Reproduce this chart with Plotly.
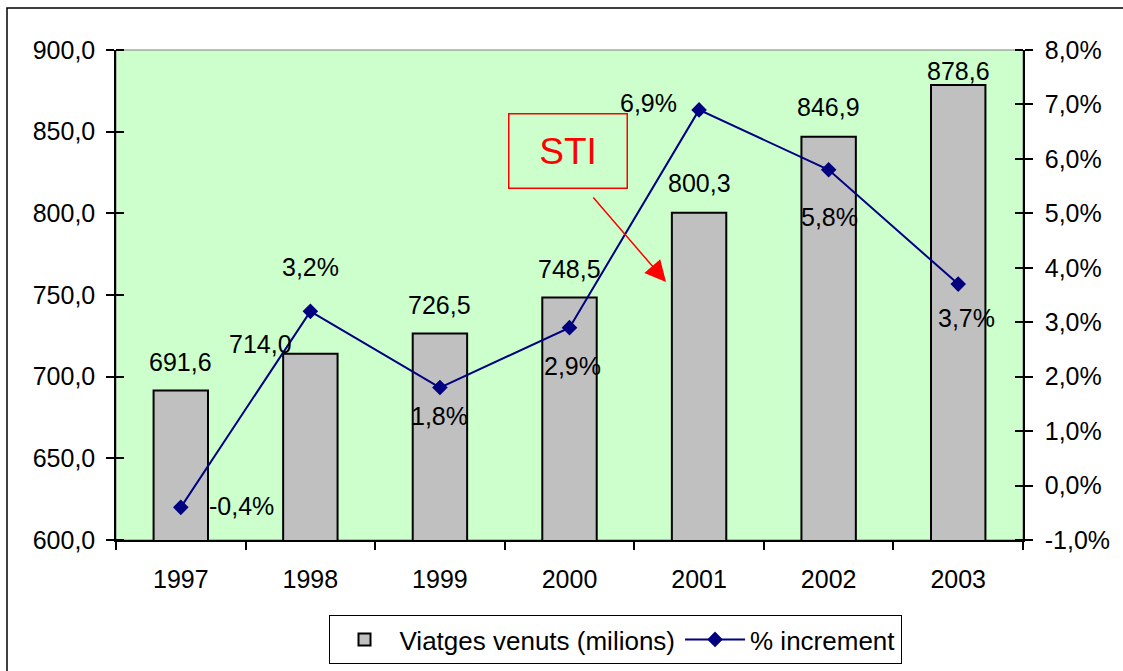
import plotly.graph_objects as go

years = ["1997", "1998", "1999", "2000", "2001", "2002", "2003"]
viatges = [691.6, 714.0, 726.5, 748.5, 800.3, 846.9, 878.6]
increment = [-0.4, 3.2, 1.8, 2.9, 6.9, 5.8, 3.7]
left_ticks = [600, 650, 700, 750, 800, 850, 900]
right_ticks = [-1, 0, 1, 2, 3, 4, 5, 6, 7, 8]

def fmt(v, suffix=""):
    return f"{v:.1f}".replace(".", ",") + suffix

xpos = list(range(len(years)))  # category slots on the x scale
bounds = [i - 0.5 for i in range(len(years) + 1)]

# label placement tweaks (style only)
bar_lbl_shift = [(0, 28), (-50, 10), (0, 28), (0, 28), (0, 30), (0, 30), (0, 14)]
line_lbl_pos = [
    ("left", "middle", 26, 1),
    ("center", "bottom", 0, 28),
    ("center", "top", 0, -12),
    ("center", "top", 3, -22),
    ("right", "middle", -20, 7),
    ("center", "top", 1, -31),
    ("center", "top", 8, -18),
]

FONT = "Arial, Liberation Sans, sans-serif"
FS = 25

L, R, T, B = 116, 100, 50, 131
W, H = 1123, 671
pw, ph = W - L - R, H - T - B

def px2paper(x, y):
    return (x - L) / pw, (H - B - y) / ph

fig = go.Figure()
fig.add_trace(go.Bar(
    x=xpos, y=viatges, name="Viatges venuts (milions)",
    marker=dict(color="#C0C0C0", line=dict(color="black", width=2)),
    width=0.42, yaxis="y",
))
fig.add_trace(go.Scatter(
    x=xpos, y=increment, name="% increment", yaxis="y2",
    mode="lines+markers",
    line=dict(color="#000080", width=2),
    marker=dict(symbol="diamond", size=12, color="#000080"),
))

annotations = []
for xv, yv, (dx, dy) in zip(xpos, viatges, bar_lbl_shift):
    annotations.append(dict(
        x=xv, y=yv, xref="x", yref="y", text=fmt(yv),
        showarrow=False, xanchor="center", yanchor="middle",
        xshift=dx, yshift=dy, font=dict(size=FS, color="black", family=FONT)))
for xv, yv, (xa, ya, dx, dy) in zip(xpos, increment, line_lbl_pos):
    annotations.append(dict(
        x=xv, y=yv, xref="x", yref="y2", text=fmt(yv, "%"),
        showarrow=False, xanchor=xa, yanchor=ya,
        xshift=dx, yshift=dy, font=dict(size=FS, color="black", family=FONT)))

# STI box
bx, by = px2paper(567.5, 150.5)
annotations.append(dict(
    x=bx, y=by, xref="paper", yref="paper", text="STI", showarrow=False,
    xanchor="center", yanchor="middle", width=117, height=73,
    bordercolor="red", borderwidth=1.5, borderpad=0,
    font=dict(size=37, color="red", family=FONT)))
# red arrow
tx, ty = px2paper(666, 282)
annotations.append(dict(
    x=tx, y=ty, xref="paper", yref="paper", text="", showarrow=True,
    ax=592 - 666, ay=196 - 282, axref="pixel", ayref="pixel",
    arrowcolor="red", arrowwidth=1.5, arrowhead=2, arrowsize=2.8))

ox0, oy0 = px2paper(7, 8)
ox1, oy1 = px2paper(1135, 685)
shapes = [
    dict(type="rect", xref="paper", yref="paper", x0=0, x1=1, y0=0, y1=1,
         line=dict(color="#808080", width=1), layer="below"),
    dict(type="rect", xref="paper", yref="paper", x0=ox0, x1=ox1, y0=oy1, y1=oy0,
         line=dict(color="black", width=1.5)),
]

tickfont = dict(size=FS, color="black", family=FONT)
fig.update_layout(
    width=W, height=H,
    margin=dict(l=L, r=R, t=T, b=B, autoexpand=False),
    paper_bgcolor="white", plot_bgcolor="#CCFFCC",
    font=dict(family=FONT, size=FS, color="black"),
    showlegend=True,
    legend=dict(orientation="h", x=px2paper(615, 0)[0], xanchor="center",
                y=px2paper(0, 615)[1], yanchor="top",
                bordercolor="black", borderwidth=1, bgcolor="white",
                font=dict(size=26, color="black", family=FONT),
                traceorder="normal", itemwidth=60),
    xaxis=dict(range=[-0.5, len(years) - 0.5], tickvals=xpos, ticktext=years,
               ticks="", showline=True, linecolor="black", linewidth=1.5,
               showgrid=False, zeroline=False, tickfont=tickfont, tickangle=0,
               automargin=False, ticklabelstandoff=16,
               minor=dict(tickvals=bounds, ticks="outside", ticklen=8,
                          tickwidth=1.5, tickcolor="black", showgrid=False)),
    yaxis=dict(range=[600, 900], tickvals=left_ticks,
               ticktext=[fmt(v) for v in left_ticks],
               ticks="outside", ticklen=8, tickwidth=1.5, tickcolor="black",
               showline=True, ticklabelstandoff=6,
               linecolor="black", linewidth=1.5, showgrid=False, zeroline=False,
               tickfont=tickfont, automargin=False,
               minor=dict(tickvals=[v + 0.01 for v in left_ticks], ticks="inside",
                          ticklen=8, tickwidth=1.5, tickcolor="black", showgrid=False)),
    yaxis2=dict(range=[-1, 8], tickvals=right_ticks,
                ticktext=[fmt(v, "%") for v in right_ticks],
                overlaying="y", side="right", ticks="outside", ticklen=8,
                tickwidth=1.5, ticklabelstandoff=7,
                tickcolor="black", showline=True, linecolor="black", linewidth=1.5,
                showgrid=False, zeroline=False, tickfont=tickfont, automargin=False,
                minor=dict(tickvals=[v + 0.0003 for v in right_ticks], ticks="inside",
                           ticklen=8, tickwidth=1.5, tickcolor="black", showgrid=False)),
    annotations=annotations,
    shapes=shapes,
)

fig.write_html("out.html", config={"displayModeBar": False},
               post_script="document.body.style.margin='0px';")
